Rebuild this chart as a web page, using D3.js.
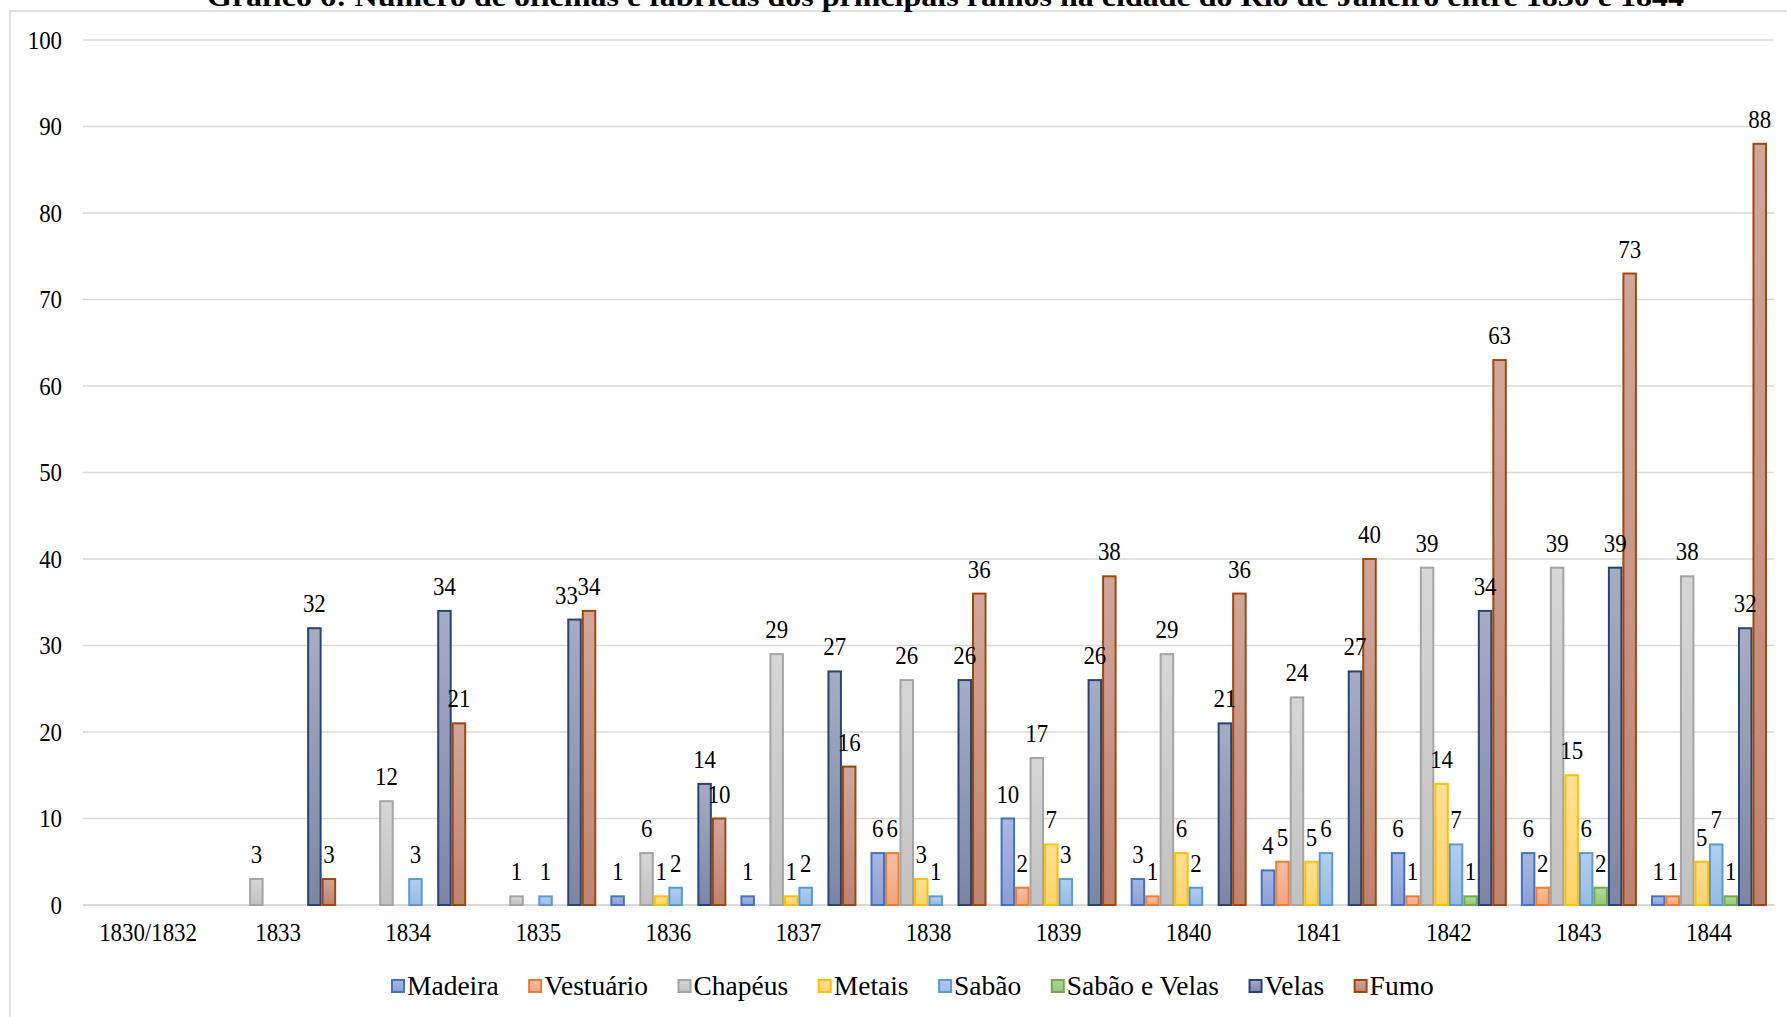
<!DOCTYPE html>
<html>
<head>
<meta charset="utf-8">
<script src="https://cdn.jsdelivr.net/npm/d3@7/dist/d3.min.js"></script>
<style>
  html, body { margin: 0; padding: 0; background: #ffffff; }
  svg { display: block; }
</style>
</head>
<body>
<svg id="chart" width="1787" height="1017"></svg>
<script>
// Anos (categorias do eixo X)
const categories = ["1830/1832", "1833", "1834", "1835", "1836", "1837", "1838",
                    "1839", "1840", "1841", "1842", "1843", "1844"];

// Ramos (séries)
const seriesNames = ["Madeira", "Vestuário", "Chapéus", "Metais", "Sabão",
                     "Sabão e Velas", "Velas", "Fumo"];

// Número de oficinas e fábricas por ramo e ano (null = sem registro)
const madeira     = [null, null, null, null, 1, 1, 6, 10, 3, 4, 6, 6, 1];
const vestuario   = [null, null, null, null, null, null, 6, 2, 1, 5, 1, 2, 1];
const chapeus     = [null, 3, 12, 1, 6, 29, 26, 17, 29, 24, 39, 39, 38];
const metais      = [null, null, null, null, 1, 1, 3, 7, 6, 5, 14, 15, 5];
const sabao       = [null, null, 3, 1, 2, 2, 1, 3, 2, 6, 7, 6, 7];
const sabaoEVelas = [null, null, null, null, null, null, null, null, null, null, 1, 2, 1];
const velas       = [null, 32, 34, 33, 14, 27, 26, 26, 21, 27, 34, 39, 32];
const fumo        = [null, 3, 21, 34, 10, 16, 36, 38, 36, 40, 63, 73, 88];

const seriesValues = [madeira, vestuario, chapeus, metais, sabao, sabaoEVelas, velas, fumo];

// Marcas do eixo Y
const yTicks = [0, 10, 20, 30, 40, 50, 60, 70, 80, 90, 100];

const title = "Gráfico 6: Número de oficinas e fábricas dos principais ramos na cidade do Rio de Janeiro entre 1830 e 1844";

// Estilo de cada série: contorno e gradiente (claro em cima, escuro embaixo)
const styles = [
  { stroke: "#4472c4", top: "#a9b8e2", bottom: "#8c9fd6" },
  { stroke: "#ed7d31", top: "#f7bfa4", bottom: "#f2a581" },
  { stroke: "#a5a5a5", top: "#d6d6d6", bottom: "#c2c2c2" },
  { stroke: "#ffc000", top: "#ffdf97", bottom: "#ffd46e" },
  { stroke: "#5b9bd5", top: "#b2cfec", bottom: "#96bbe3" },
  { stroke: "#70ad47", top: "#b5d7a0", bottom: "#97c57b" },
  { stroke: "#264478", top: "#a6adc3", bottom: "#7c86a4" },
  { stroke: "#9e480e", top: "#d1a79b", bottom: "#bf8371" }
];

const FONT = "'Liberation Serif', 'Times New Roman', 'DejaVu Serif', serif";

const W = 1787, H = 1017;
const plot = { left: 83, right: 1774, top: 40, bottom: 905 };

const svg = d3.select("#chart");

// Gradientes
const defs = svg.append("defs");
styles.forEach((s, i) => {
  const g = defs.append("linearGradient")
    .attr("id", "grad" + i)
    .attr("x1", 0).attr("y1", 0).attr("x2", 0).attr("y2", 1);
  g.append("stop").attr("offset", "0%").attr("stop-color", s.top);
  g.append("stop").attr("offset", "100%").attr("stop-color", s.bottom);
});

// Moldura da área do gráfico
svg.append("rect")
  .attr("x", 10).attr("y", 11)
  .attr("width", W + 20).attr("height", H + 20)
  .attr("fill", "#ffffff")
  .attr("stroke", "#d9d9d9").attr("stroke-width", 1.5);

// Título (em negrito, parcialmente acima da borda superior)
svg.append("text")
  .attr("x", 207).attr("y", 6)
  .style("font-family", FONT)
  .style("font-size", "27px").style("font-weight", "bold")
  .attr("textLength", 1477).attr("lengthAdjust", "spacingAndGlyphs")
  .text(title);

// Escalas
const x0 = d3.scaleBand()
  .domain(categories)
  .range([plot.left, plot.right])
  .paddingInner(0.108)
  .paddingOuter(0.054);

const x1 = d3.scaleBand()
  .domain(d3.range(seriesNames.length))
  .range([0, x0.bandwidth()])
  .padding(0);

const y = d3.scaleLinear().domain([0, 100]).range([plot.bottom, plot.top]);

// Linhas de grade
svg.append("g").selectAll("line")
  .data(yTicks)
  .join("line")
  .attr("x1", plot.left).attr("x2", plot.right)
  .attr("y1", d => y(d)).attr("y2", d => y(d))
  .attr("stroke", "#d9d9d9")
  .attr("stroke-width", d => d === 0 ? 2 : 1.5);

// Rótulos do eixo Y (levemente comprimidos na horizontal)
const fs = 26, sx = 0.88;
const yAxis = d3.axisLeft(y).tickValues(yTicks).tickSize(0).tickPadding(0);
const yg = svg.append("g").attr("transform", `translate(62,0)`).call(yAxis);
yg.select(".domain").remove();
yg.attr("font-family", null).attr("font-size", null);
yg.selectAll(".tick text")
  .attr("x", 0).attr("y", 0).attr("dy", null)
  .style("font-family", FONT)
  .style("font-size", fs + "px")
  .attr("fill", "#000")
  .attr("text-anchor", "end")
  .attr("dominant-baseline", "central")
  .attr("transform", `translate(0,-1) scale(${sx},1)`);

// Rótulos do eixo X
const xAxis = d3.axisBottom(x0).tickSize(0).tickPadding(0);
const xg = svg.append("g").attr("transform", `translate(0,${plot.bottom})`).call(xAxis);
xg.select(".domain").remove();
xg.attr("font-family", null).attr("font-size", null);
xg.selectAll(".tick text")
  .attr("y", 0).attr("dy", null)
  .style("font-family", FONT)
  .style("font-size", fs + "px")
  .attr("fill", "#000")
  .attr("text-anchor", "middle")
  .attr("transform", `translate(0,36) scale(${sx},1)`);

// Dados organizados por série
const rows = [];
seriesValues.forEach((vals, si) => {
  vals.forEach((v, ci) => {
    if (v !== null) rows.push({ s: si, c: categories[ci], v });
  });
});

// Barras
svg.append("g").selectAll("rect")
  .data(rows)
  .join("rect")
  .attr("x", d => x0(d.c) + x1(d.s) + 1)
  .attr("y", d => y(d.v))
  .attr("width", x1.bandwidth() - 2)
  .attr("height", d => y(0) - y(d.v))
  .attr("fill", d => `url(#grad${d.s})`)
  .attr("stroke", d => styles[d.s].stroke)
  .attr("stroke-width", 2);

// Pequenos deslocamentos de rótulos para evitar sobreposição
const labelNudge = { "1835|6": -8 };

// Rótulos de valor
svg.append("g").selectAll("text")
  .data(rows)
  .join("text")
  .attr("text-anchor", "middle")
  .style("font-family", FONT)
  .style("font-size", fs + "px")
  .attr("fill", "#000")
  .attr("transform", d => {
    const cx = x0(d.c) + x1(d.s) + x1.bandwidth() / 2 + (labelNudge[d.c + "|" + d.s] || 0);
    return `translate(${cx},${y(d.v) - 16}) scale(${sx},1)`;
  })
  .text(d => d.v);

// Legenda
const legend = svg.append("g").attr("transform", "translate(391,0)");
let lx = 0;
seriesNames.forEach((name, i) => {
  const item = legend.append("g").attr("transform", `translate(${lx},0)`);
  item.append("rect")
    .attr("x", 1).attr("y", 980)
    .attr("width", 12).attr("height", 12)
    .attr("fill", `url(#grad${i})`)
    .attr("stroke", styles[i].stroke)
    .attr("stroke-width", 2);
  const t = item.append("text")
    .attr("x", 16).attr("y", 995)
    .style("font-family", FONT)
    .style("font-size", "27.5px")
    .attr("fill", "#000")
    .text(name);
  lx += 16 + t.node().getComputedTextLength() + 29.5;
});
</script>
</body>
</html>
